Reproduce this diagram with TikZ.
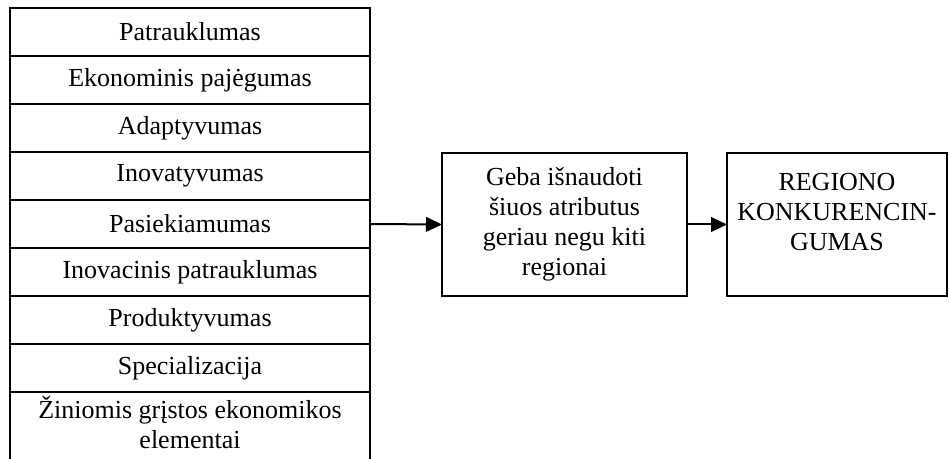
\documentclass[tikz,border=0pt]{standalone}
\usepackage{fontspec}
\setmainfont{Liberation Serif}
\usetikzlibrary{arrows.meta,positioning}

\begin{document}
\begin{tikzpicture}[x=0.75pt,y=-0.75pt,line width=1.5pt,
        font=\fontsize{19.5}{22.5}\selectfont]
    \useasboundingbox (0,0) rectangle (949,459);
    \begin{scope}[every node/.style={draw,inner sep=0pt,outer sep=0pt,minimum width=270pt,minimum height=36pt}]
    \foreach \t [count=\i] in {Patrauklumas,Ekonominis pajėgumas,Adaptyvumas,Inovatyvumas,
            Pasiekiamumas,Inovacinis patrauklumas,Produktyvumas,Specializacija}{%
        \node (row\i) at (190,{32+48*(\i-1)}) {\t};
    }
    \end{scope}
    % last row is cut by the bottom edge
    \node [anchor=north,align=center,inner sep=0pt] (row9) at (190,395)
        {Žiniomis grįstos ekonomikos\\elementai};
    \draw (row8.south west) -- ++(0,67);
    \draw (row8.south east) -- ++(0,67);
    \node [draw,align=center,outer sep=0pt,minimum width=183.75pt,minimum height=107.25pt] (geba) at (564.5,224.5)
        {Geba išnaudoti\\šiuos atributus\\geriau negu kiti\\regionai};
    \node [draw,outer sep=0pt,minimum width=165pt,minimum height=107.25pt] (konk) at (837,224.5) {};
    \node [anchor=north,align=center,inner sep=0pt] (konktxt) at (837,172)
        {REGIONO\\KONKURENCIN-\\GUMAS};
    \draw [-{Triangle[length=12pt,width=11pt]}] (row5.east) -- (geba.west);
    \draw [-{Triangle[length=12pt,width=11pt]}] (geba.east) -- (konk.west);
\end{tikzpicture}
\end{document}
